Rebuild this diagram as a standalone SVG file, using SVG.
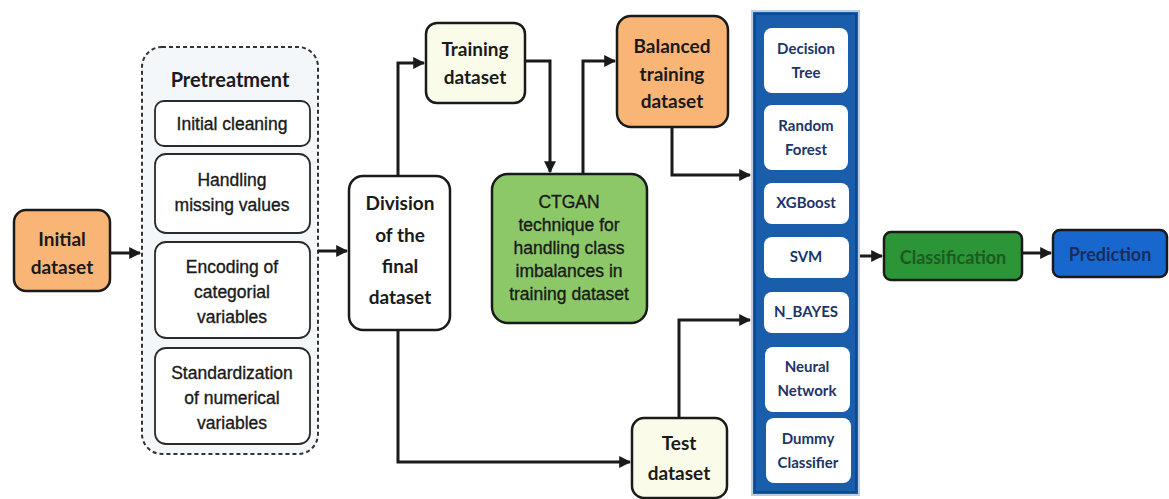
<svg xmlns="http://www.w3.org/2000/svg" width="1169" height="499" viewBox="0 0 1169 499">
<defs>
<style>
.lbl{font-family:"Lato","Liberation Sans",sans-serif;font-weight:bold;fill:#1a1a1a;text-anchor:middle;}
.pre{font-family:"Liberation Sans",Arial,sans-serif;fill:#1a1a1a;stroke:#1a1a1a;stroke-width:0.35;text-anchor:middle;font-size:17.5px;}
.mdl{font-family:"Lato","Liberation Sans",sans-serif;font-weight:bold;fill:#1c3566;text-anchor:middle;font-size:15px;}
.box{stroke:#1a1a1a;stroke-width:2.5;}
.wbox{fill:#ffffff;stroke:#2a2a2a;stroke-width:1.8;}
.conn{fill:none;stroke:#1a1a1a;stroke-width:3;marker-end:url(#ah);}
</style>
<marker id="ah" viewBox="0 0 10 10" refX="9" refY="5" markerWidth="4" markerHeight="4" orient="auto" markerUnits="strokeWidth">
<path d="M0,0 L10,5 L0,10 z" fill="#1a1a1a"/>
</marker>
</defs>
<rect width="1169" height="499" fill="#ffffff"/>

<g id="initial-dataset">
<rect class="box" x="14" y="210" width="96" height="81" rx="12" fill="#f9b575"/>
<text class="lbl" x="62" y="246" font-size="19">Initial</text>
<text class="lbl" x="62" y="274" font-size="19">dataset</text>
</g>

<g id="pretreatment">
<rect x="142" y="47" width="176" height="407" rx="20" fill="#f3f7fa" stroke="#333" stroke-width="2" stroke-dasharray="4,3"/>
<text class="lbl" x="230" y="87" font-size="20">Pretreatment</text>
<rect class="wbox" x="155" y="101" width="155" height="45" rx="9"/>
<text class="pre" x="232" y="130">Initial cleaning</text>
<rect class="wbox" x="155" y="154" width="155" height="79" rx="11"/>
<text class="pre" x="232" y="186">Handling</text>
<text class="pre" x="232" y="211">missing values</text>
<rect class="wbox" x="155" y="242" width="155" height="96" rx="11"/>
<text class="pre" x="232" y="273">Encoding of</text>
<text class="pre" x="232" y="298">categorial</text>
<text class="pre" x="232" y="323">variables</text>
<rect class="wbox" x="155" y="348" width="155" height="96" rx="11"/>
<text class="pre" x="232" y="379">Standardization</text>
<text class="pre" x="232" y="404">of numerical</text>
<text class="pre" x="232" y="429">variables</text>
</g>

<g id="division">
<rect class="box" x="349" y="176" width="101" height="154" rx="14" fill="#ffffff"/>
<text class="lbl" x="400" y="210" font-size="19">Division</text>
<text class="lbl" x="400" y="242" font-size="19">of the</text>
<text class="lbl" x="400" y="273" font-size="19">final</text>
<text class="lbl" x="400" y="304" font-size="19">dataset</text>
</g>

<g id="training-dataset">
<rect class="box" x="426" y="23" width="99" height="80" rx="11" fill="#fbfbea"/>
<text class="lbl" x="475" y="56" font-size="19">Training</text>
<text class="lbl" x="475" y="84" font-size="19">dataset</text>
</g>

<g id="ctgan">
<rect class="box" x="492" y="174" width="155" height="149" rx="16" fill="#8cc867"/>
<text class="pre" x="569" y="208" font-size="17">CTGAN</text>
<text class="pre" x="569" y="231" font-size="17">technique for</text>
<text class="pre" x="569" y="254" font-size="17">handling class</text>
<text class="pre" x="569" y="277" font-size="17">imbalances in</text>
<text class="pre" x="569" y="300" font-size="17">training dataset</text>
</g>

<g id="balanced-training-dataset">
<rect class="box" x="617" y="16" width="111" height="111" rx="14" fill="#f9b575"/>
<text class="lbl" x="672" y="53" font-size="19">Balanced</text>
<text class="lbl" x="672" y="81" font-size="19">training</text>
<text class="lbl" x="672" y="108" font-size="19">dataset</text>
</g>

<g id="test-dataset">
<rect class="box" x="632" y="418" width="95" height="80" rx="12" fill="#fbfbea"/>
<text class="lbl" x="679" y="450" font-size="19">Test</text>
<text class="lbl" x="679" y="480" font-size="19">dataset</text>
</g>

<g id="models">
<rect x="752" y="11" width="107" height="484" fill="#1a5eab" stroke="#b9cde6" stroke-width="2"/>
<rect x="755" y="14" width="101" height="478" fill="none" stroke="#0e4a8e" stroke-width="2"/>
<g id="decision-tree">
<rect x="764" y="28" width="84" height="65" rx="8" fill="#ffffff"/>
<text class="mdl" x="806" y="54">Decision</text>
<text class="mdl" x="806" y="78">Tree</text>
</g>
<g id="random-forest">
<rect x="764" y="105" width="84" height="65" rx="8" fill="#ffffff"/>
<text class="mdl" x="806" y="131">Random</text>
<text class="mdl" x="806" y="155">Forest</text>
</g>
<g id="xgboost">
<rect x="764" y="183" width="85" height="41" rx="8" fill="#ffffff"/>
<text class="mdl" x="806" y="208">XGBoost</text>
</g>
<g id="svm">
<rect x="764" y="237" width="85" height="41" rx="8" fill="#ffffff"/>
<text class="mdl" x="806" y="262">SVM</text>
</g>
<g id="n-bayes">
<rect x="764" y="292" width="85" height="41" rx="8" fill="#ffffff"/>
<text class="mdl" x="806" y="317">N_BAYES</text>
</g>
<g id="neural-network">
<rect x="765" y="347" width="85" height="65" rx="8" fill="#ffffff"/>
<text class="mdl" x="807" y="372">Neural</text>
<text class="mdl" x="807" y="396">Network</text>
</g>
<g id="dummy-classifier">
<rect x="766" y="418" width="85" height="65" rx="8" fill="#ffffff"/>
<text class="mdl" x="808" y="444">Dummy</text>
<text class="mdl" x="808" y="468">Classifier</text>
</g>
</g>

<g id="classification">
<rect class="box" x="884" y="232" width="138" height="48" rx="7" fill="#2b9537"/>
<text class="lbl" x="953" y="264" font-size="18" style="fill:#1d5a22">Classification</text>
</g>

<g id="prediction">
<rect class="box" x="1053" y="230" width="114" height="47" rx="7" fill="#1767cf"/>
<text class="lbl" x="1110" y="261" font-size="18" style="fill:#1a2c5c">Prediction</text>
</g>

<g id="connectors">
<path class="conn" d="M110,253 L140,253"/>
<path class="conn" d="M318,251 L347,251"/>
<path class="conn" d="M398,176 L398,63 L424,63"/>
<path class="conn" d="M525,61 L550,61 L550,172"/>
<path class="conn" d="M583,174 L583,61 L615,61"/>
<path class="conn" d="M672,127 L672,175 L750,175"/>
<path class="conn" d="M398,330 L398,462 L630,462"/>
<path class="conn" d="M679,418 L679,320 L750,320"/>
<path class="conn" d="M860,256 L882,256"/>
<path class="conn" d="M1022,253 L1051,253"/>
</g>
</svg>
